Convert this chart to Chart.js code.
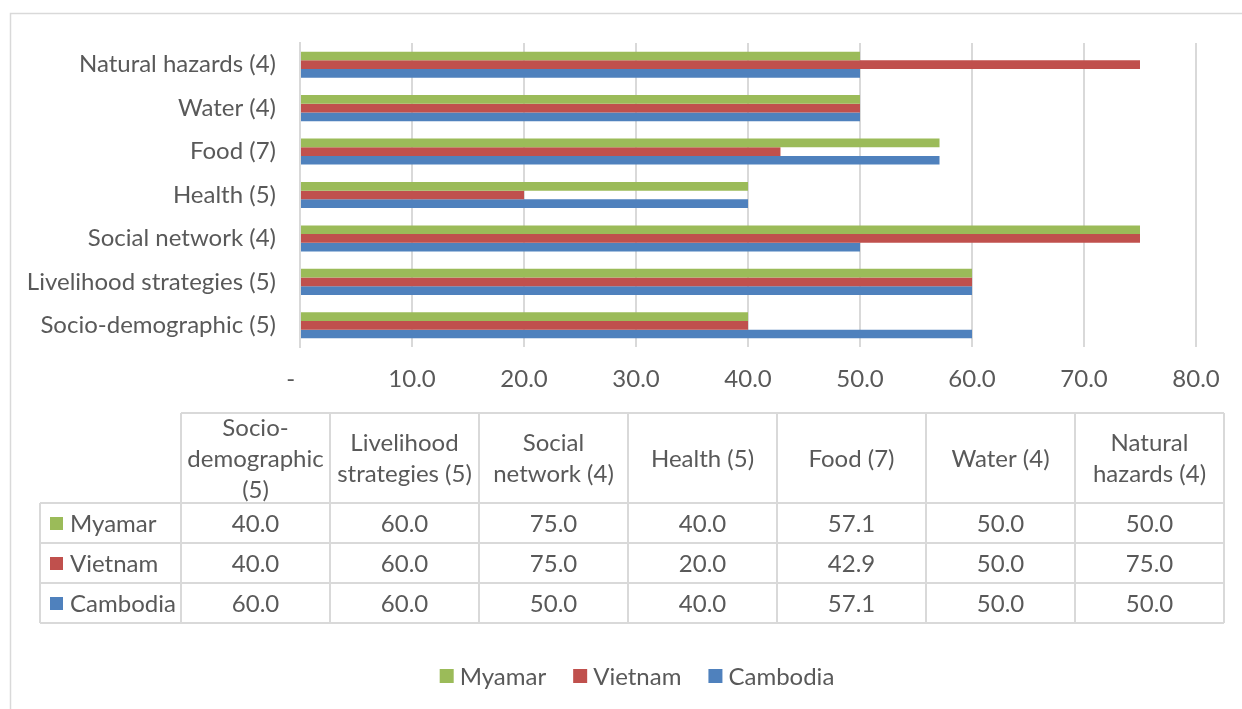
<!DOCTYPE html>
<html>
<head>
<meta charset="utf-8">
<script src="https://cdn.jsdelivr.net/npm/chart.js@4"></script>
<style>
  html, body { margin: 0; padding: 0; background: #fff; }
  #wrap { width: 1242px; height: 709px; }
</style>
</head>
<body>
<div id="wrap"><canvas id="c" width="1242" height="709"></canvas></div>
<script>
// ---- data ----
const categories = ['Socio-demographic (5)', 'Livelihood strategies (5)', 'Social network (4)', 'Health (5)', 'Food (7)', 'Water (4)', 'Natural hazards (4)'];
const tableHeaders = [['Socio-', 'demographic', '(5)'], ['Livelihood', 'strategies (5)'], ['Social', 'network (4)'], ['Health (5)'], ['Food (7)'], ['Water (4)'], ['Natural', 'hazards (4)']];
const seriesNames = ['Myamar', 'Vietnam', 'Cambodia'];
const myamar = [40.0, 60.0, 75.0, 40.0, 57.1, 50.0, 50.0];
const vietnam = [40.0, 60.0, 75.0, 20.0, 42.9, 50.0, 75.0];
const cambodia = [60.0, 60.0, 50.0, 40.0, 57.1, 50.0, 50.0];
const xTicks = [0, 10, 20, 30, 40, 50, 60, 70, 80];

// ---- styles ----
const colors = ['#9BBB59', '#C0504D', '#4F81BD'];
const FONT = 'Lato, "Open Sans", sans-serif';
const FS = 24;
const TXT = '#595959';
const LINE = '#d9d9d9';

const series = [myamar, vietnam, cambodia];
const rev = a => a.slice().reverse();

const decor = {
  id: 'decor',
  beforeDraw(chart) {
    const ctx = chart.ctx;
    ctx.save();
    ctx.strokeStyle = LINE;
    ctx.lineWidth = 1.5;
    ctx.beginPath();
    ctx.moveTo(10.5, 720); ctx.lineTo(10.5, 13.5); ctx.lineTo(1250, 13.5);
    ctx.stroke();
    ctx.restore();
  },
  afterDraw(chart) {
    const ctx = chart.ctx;
    ctx.save();
    // table geometry
    const colX = [181, 330, 479, 628, 777, 926, 1075, 1224];
    const keyLeft = 40;
    const headTop = 413, headBot = 503, rowH = 40;
    ctx.strokeStyle = LINE;
    ctx.lineWidth = 2;
    ctx.beginPath();
    ctx.moveTo(colX[0], headTop); ctx.lineTo(colX[7], headTop);
    for (let r = 0; r <= series.length; r++) {
      const y = headBot + r * rowH;
      ctx.moveTo(keyLeft, y); ctx.lineTo(colX[7], y);
    }
    colX.forEach(x => { ctx.moveTo(x, headTop); ctx.lineTo(x, headBot + series.length * rowH); });
    ctx.moveTo(keyLeft, headBot); ctx.lineTo(keyLeft, headBot + series.length * rowH);
    ctx.stroke();

    ctx.fillStyle = TXT;
    ctx.font = FS + 'px ' + FONT;
    ctx.textAlign = 'center';
    ctx.textBaseline = 'middle';
    const lh = 31;
    const headMid = 459;
    tableHeaders.forEach((lines, i) => {
      const cx = (colX[i] + colX[i + 1]) / 2;
      const y0 = headMid - (lines.length - 1) * lh / 2;
      lines.forEach((t, k) => ctx.fillText(t, cx, y0 + k * lh));
    });
    series.forEach((vals, r) => {
      const cy = headBot + r * rowH + rowH / 2;
      vals.forEach((v, i) => {
        const cx = (colX[i] + colX[i + 1]) / 2;
        ctx.fillStyle = TXT;
        ctx.fillText(v.toFixed(1), cx, cy + 1);
      });
      ctx.fillStyle = colors[r];
      ctx.fillRect(50, cy - 6, 13, 13);
      ctx.fillStyle = TXT;
      ctx.textAlign = 'left';
      ctx.fillText(seriesNames[r], 70, cy + 1);
      ctx.textAlign = 'center';
    });

    // bottom legend
    const box = 14, gapBT = 6, gapItem = 27;
    ctx.textAlign = 'left';
    const widths = seriesNames.map(n => ctx.measureText(n).width);
    let total = 0;
    widths.forEach((w, i) => { total += box + gapBT + w + (i < widths.length - 1 ? gapItem : 0); });
    let x = 637 - total / 2;
    const ly = 676;
    seriesNames.forEach((n, i) => {
      ctx.fillStyle = colors[i];
      ctx.fillRect(x, ly - 7, box, box);
      ctx.fillStyle = TXT;
      ctx.fillText(n, x + box + gapBT, ly + 1);
      x += box + gapBT + widths[i] + gapItem;
    });
    ctx.restore();
  }
};

new Chart(document.getElementById('c'), {
  type: 'bar',
  data: {
    labels: rev(categories),
    datasets: seriesNames.map((n, i) => ({
      label: n,
      data: rev(series[i]),
      backgroundColor: colors[i],
      borderWidth: 0,
      categoryPercentage: 0.6,
      barPercentage: 1.0
    }))
  },
  options: {
    indexAxis: 'y',
    responsive: false,
    animation: false,
    devicePixelRatio: 1,
    layout: { padding: { left: 10, right: 46, top: 43, bottom: 302 } },
    plugins: { legend: { display: false }, tooltip: { enabled: false } },
    scales: {
      x: {
        min: 0, max: 80,
        afterBuildTicks: s => { s.ticks = xTicks.map(v => ({ value: v })); },
        afterFit: s => { s.height = 60; },
        ticks: {
          color: TXT, font: { family: FONT, size: FS }, padding: 18,
          callback: v => v === 0 ? '-   ' : v.toFixed(1)
        },
        grid: { color: LINE, lineWidth: 2, drawTicks: false },
        border: { display: false }
      },
      y: {
        afterFit: s => { s.width = 290; },
        ticks: { color: TXT, font: { family: FONT, size: FS }, padding: 24 },
        grid: { display: false, drawTicks: false },
        border: { display: true, color: LINE, width: 2 }
      }
    }
  },
  plugins: [decor]
});
</script>
</body>
</html>
